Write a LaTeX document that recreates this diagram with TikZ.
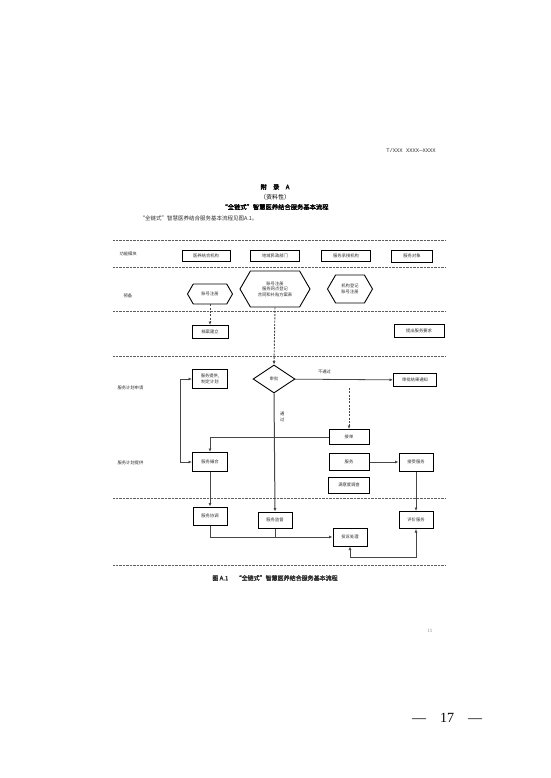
\documentclass[tikz,border=0pt]{standalone}
\usepackage{fontspec}
\setmainfont{Liberation Serif}
\newfontfamily\cjk[AutoFakeBold=2]{Noto Sans CJK SC}
\usetikzlibrary{shapes.geometric, shapes.symbols, arrows.meta, positioning}
\definecolor{cInk}{RGB}{45,45,45}
\definecolor{cLane}{RGB}{95,95,95}
\definecolor{cLine}{RGB}{70,70,70}
\newcommand{\tinycjk}{\cjk\fontsize{4.3}{5.6}\selectfont}
\tikzset{
	blk/.style     ={rectangle, draw=black, line width=1pt, minimum width=35pt, minimum height=17pt, inner sep=1pt, align=center, font=\tinycjk, text=cInk},
	hexa/.style    ={signal, signal to=west and east, signal pointer angle=120, draw=black, line width=0.9pt, inner sep=1pt, align=center, font=\tinycjk, text=cInk},
	decision/.style={diamond, draw=black, line width=0.9pt, minimum width=42pt, minimum height=28pt, inner sep=0pt, font=\tinycjk, text=cInk},
	lane/.style    ={dash pattern=on 1pt off 0.4pt, cLane, line width=0.7pt},
	lanelbl/.style ={anchor=west, font=\tinycjk, text=cInk},
	sig/.style     ={-{Latex[length=3.5pt,width=3pt]}, line width=0.8pt, cLine},
	dsig/.style    ={sig, dash pattern=on 2pt off 1.3pt, line width=0.9pt},
	bsig/.style    ={{Latex[length=3.5pt,width=3pt]}-{Latex[length=3.5pt,width=3pt]}, line width=0.8pt, cLine},
}
\begin{document}
\begin{tikzpicture}[x=1pt, y=-1pt]
	\useasboundingbox[fill=white] (0,0) rectangle (550,778);
	% page header and titles
	\node[font=\fontspec{Liberation Mono}\fontsize{5.5}{6}\selectfont, text=cInk] (code) at (411,151) {T/XXX XXXX—XXXX};
	\node[font=\cjk\bfseries\fontsize{6.3}{7}\selectfont] (annex) at (275,187) {附\quad 录\quad A};
	\node[font=\cjk\fontsize{6}{7}\selectfont] (kind) at (275,197) {（资料性）};
	\node[font=\cjk\bfseries\fontsize{6.3}{7}\selectfont] (title) at (275,207) {“全链式”智慧医养结合服务基本流程};
	\node[anchor=west, font=\cjk\fontsize{5.5}{6}\selectfont, text=cInk] (intro) at (136,218) {“全链式”智慧医养结合服务基本流程见图A.1。};
	% lanes
	\foreach \y in {240,267,311,356,498,565}
		\draw[lane] (113,\y) -- (446,\y);
	\node[lanelbl] (l1) at (116,254) {功能模块};
	\node[lanelbl] (l2) at (120,296) {预备};
	\node[lanelbl] (l3) at (114,388) {服务计划申请};
	\node[lanelbl] (l4) at (114,463) {服务计划提供};
	% modules
	\node[blk, minimum width=48pt, minimum height=11pt] (inst) at (206,256) {医养结合机构};
	\node[blk, minimum width=49pt, minimum height=11pt] (civil) at (275,256) {地域民政部门};
	\node[blk, minimum width=49pt, minimum height=11pt] (prov) at (346,256) {服务承接机构};
	\node[blk, minimum width=41pt, minimum height=12pt] (client) at (412,256) {服务对象};
	% preparation
	\node[hexa, minimum width=45pt, minimum height=20pt] (regA) at (210,294) {账号注册};
	\node[hexa, minimum width=70pt, minimum height=36pt] (regB) at (275,289) {账号注册\\服务网点登记\\合同和补贴方案表};
	\node[hexa, minimum width=45pt, minimum height=28pt] (regC) at (350,289) {机构登记\\账号注册};
	\node[blk, minimum width=36pt, minimum height=13pt] (file) at (210,332) {档案建立};
	\node[blk, minimum width=50pt, minimum height=13pt] (demand) at (419,331) {提出服务要求};
	% application
	\node[decision] (approve) at (274,379) {审批};
	\node[blk, minimum width=43pt, minimum height=13pt] (notice) at (415,380) {审批结果通知};
	\node[blk, minimum height=19pt] (plan) at (210,379) {服务提供,\\制定计划};
	% provision
	\node[blk, minimum width=40pt, minimum height=15pt] (order) at (349,437) {接单};
	\node[blk, minimum height=19pt] (match) at (210,462) {服务撮合};
	\node[blk, minimum width=40pt, minimum height=17pt] (serve) at (349,462) {服务};
	\node[blk, minimum width=34pt, minimum height=18pt] (accept) at (416,462) {接受服务};
	\node[blk, minimum width=41pt, minimum height=16pt] (survey) at (349,485) {满意度调查};
	\node[blk, minimum width=34pt, minimum height=18pt] (coord) at (210,516) {服务协调};
	\node[blk, minimum width=34pt, minimum height=16pt] (superv) at (275,520) {服务监督};
	\node[blk, minimum width=34pt, minimum height=18pt] (complain) at (350,537) {投诉处理};
	\node[blk, minimum width=34pt, minimum height=17pt] (rate) at (416,520) {评价服务};
	\coordinate (pass) at (349,388);
	% connectors
	\draw[dsig] (regA) -- (file);
	\draw[dsig] (regB.south) -- (approve.north);
	\draw[sig] (approve) -- node[pos=0.3, above=2pt, font=\tinycjk, text=cInk] (reject) {不通过} (notice);
	\draw[dsig] (pass) -- (order);
	\draw[sig, line width=1pt] (approve.south) -- node[pos=0.2, right=2pt, font=\tinycjk, text=cInk, align=center] (ok) {通\\过} (superv.north);
	\draw[bsig] (plan.west) -- ++(-12,0) |- (match.west);
	\draw[sig] (order.west) -| (match.north);
	\draw[sig] (serve) -- (accept);
	\draw[sig] (accept) -- (rate);
	\draw[sig] (match) -- (coord);
	\draw[sig] (coord.south) |- (complain.west);
	\draw[line width=0.8pt, cLine] (superv.south) -- (superv.south |- complain.west);
	\draw[bsig] (complain.south) -- ++(0,11) -| (rate.south);
	% caption and page numbers
	\node[font=\cjk\bfseries\fontsize{6}{7}\selectfont, text=cInk] (caption) at (275,578) {图 A.1\quad\ “全链式”智慧医养结合服务基本流程};
	\node[font=\fontsize{5}{6}\selectfont, text=gray] (pnum) at (430,631) {11};
	\node[font=\fontsize{14}{16}\selectfont] (folio) at (447,718) {—\quad 17\quad —};
\end{tikzpicture}
\end{document}
